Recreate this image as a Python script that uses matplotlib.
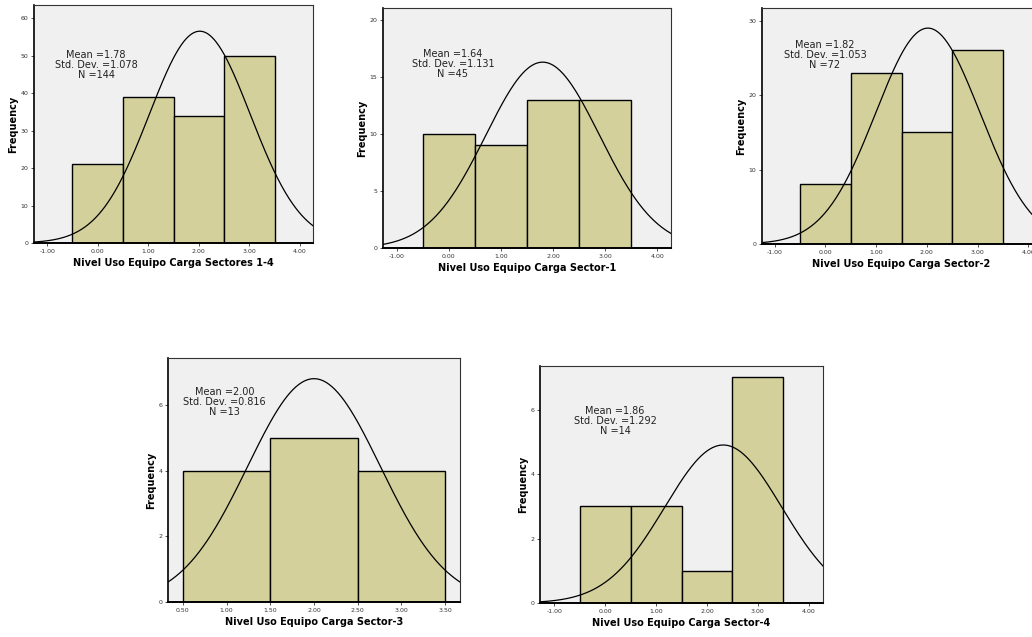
import numpy as np
import matplotlib
matplotlib.use('Agg')
import matplotlib.pyplot as plt

# bin centers and frequencies per panel
titles = ['Nivel Uso Equipo Carga Sectores 1-4', 'Nivel Uso Equipo Carga Sector-1',
          'Nivel Uso Equipo Carga Sector-2', 'Nivel Uso Equipo Carga Sector-3',
          'Nivel Uso Equipo Carga Sector-4']
bin_centers = [[0, 1, 2, 3], [0, 1, 2, 3], [0, 1, 2, 3], [1, 2, 3], [0, 1, 2, 3]]
freqs = [[21, 39, 34, 50], [10, 9, 13, 13], [8, 23, 15, 26], [4, 5, 4], [3, 3, 1, 7]]
means = ['1.78', '1.64', '1.82', '2.00', '1.86']
stds = ['1.078', '1.131', '1.053', '0.816', '1.292']
ns = [144, 45, 72, 13, 14]

# normal curve as drawn in the picture (center, spread, peak height)
curve_center = [2.02, 1.80, 2.02, 2.00, 2.32]
curve_sd = [1.00, 1.09, 1.03, 0.76, 1.15]
curve_peak = [56.6, 16.3, 29.0, 6.8, 4.9]

x_ticks = [[-1, 0, 1, 2, 3, 4]] * 3 + [[0.5, 1.0, 1.5, 2.0, 2.5, 3.0, 3.5], [-1, 0, 1, 2, 3, 4]]
y_ticks = [[0, 10, 20, 30, 40, 50, 60], [0, 5, 10, 15, 20], [0, 10, 20, 30], [0, 2, 4, 6], [0, 2, 4, 6]]

# layout (pixels in 1032x637 image: left, top, right, bottom)
W, H = 1032, 637
boxes = [(34, 5, 313, 243), (383, 8, 671, 248), (762, 8, 1041, 244),
         (168, 358, 460, 602), (540, 366, 823, 603)]
xlims = [(-1.26, 4.26), (-1.26, 4.26), (-1.25, 4.25), (0.33, 3.67), (-1.28, 4.28)]
ylims = [(0, 63.6), (0, 21.05), (0, 31.7), (0, 7.43), (0, 7.35)]
text_pos = [(0.223, 0.75), (0.243, 0.765), (0.226, 0.80), (0.193, 0.82), (0.265, 0.77)]

fig = plt.figure(figsize=(W / 100, H / 100), dpi=100)
bar_color = '#D3D09B'

for i in range(5):
    l, t, r, b = boxes[i]
    ax = fig.add_axes([l / W, 1 - b / H, (r - l) / W, (b - t) / H])
    ax.set_facecolor('#F0F0F0')
    ax.bar(bin_centers[i], freqs[i], width=1.0, color=bar_color, edgecolor='black', linewidth=1.0, zorder=2)

    xs = np.linspace(xlims[i][0], xlims[i][1], 300)
    ys = curve_peak[i] * np.exp(-0.5 * ((xs - curve_center[i]) / curve_sd[i]) ** 2)
    ax.plot(xs, ys, color='black', linewidth=0.9, zorder=3)

    ax.set_xlim(*xlims[i])
    ax.set_ylim(*ylims[i])
    ax.set_xticks(x_ticks[i])
    ax.set_xticklabels([f'{v:.2f}' for v in x_ticks[i]])
    ax.set_yticks(y_ticks[i])
    ax.tick_params(axis='both', labelsize=4.5, length=2.5, width=0.6, colors='#333333', pad=1.5)

    for s in ax.spines.values():
        s.set_linewidth(0.8)
        s.set_color('#333333')
    ax.spines['bottom'].set_linewidth(1.4)
    ax.spines['bottom'].set_color('black')
    ax.spines['left'].set_linewidth(1.2)
    ax.spines['left'].set_color('black')

    ax.set_xlabel(titles[i], fontsize=7, fontweight='bold', labelpad=3)
    ax.set_ylabel('Frequency', fontsize=7, fontweight='bold', labelpad=2)

    ax.text(text_pos[i][0], text_pos[i][1],
            f'Mean ={means[i]}\nStd. Dev. ={stds[i]}\nN ={ns[i]}',
            transform=ax.transAxes, ha='center', va='center', fontsize=7,
            linespacing=1.0, color='#222222', zorder=4)

fig.savefig('out.png', dpi=100)
